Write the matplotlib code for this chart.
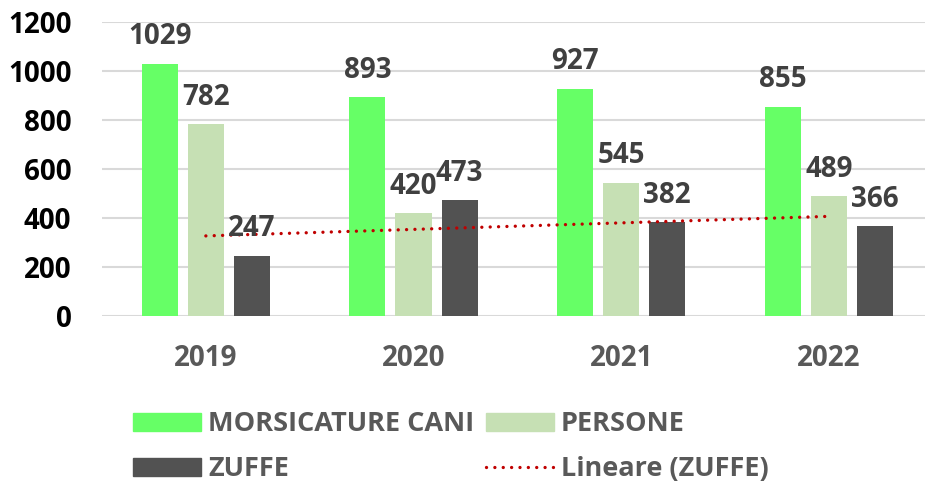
import matplotlib
matplotlib.use("Agg")
import matplotlib.pyplot as plt
import numpy as np
from matplotlib.patches import Patch
from matplotlib.lines import Line2D

years = ["2019", "2020", "2021", "2022"]
morsicature = [1029, 893, 927, 855]
persone = [782, 420, 545, 489]
zuffe = [247, 473, 382, 366]
series_names = ["MORSICATURE CANI", "PERSONE", "ZUFFE"]
trend_name = "Lineare (ZUFFE)"
colors = ["#66ff66", "#c6e0b4", "#525252"]

plt.rcParams['font.family'] = ['Open Sans', 'DejaVu Sans']
plt.rcParams['font.weight'] = 'bold'

fig = plt.figure(figsize=(9.25, 4.9), dpi=100)
ax = fig.add_axes([0.1103, 0.355, 0.898, 0.600])

x = np.arange(len(years))
width = 0.174
step = 0.222
data = [morsicature, persone, zuffe]
for i, (vals, c) in enumerate(zip(data, colors)):
    pos = x + (i - 1) * step
    ax.bar(pos, vals, width=width, color=c, zorder=3)
    for p, v in zip(pos, vals):
        ax.annotate(str(v), (p, v), xytext=(0, 9), textcoords="offset points",
                    ha="center", va="bottom", fontsize=20, fontweight="bold",
                    color="#404040", zorder=5)

# linear trendline of ZUFFE
xs = np.arange(1, len(zuffe) + 1)
coef = np.polyfit(xs, zuffe, 1)
trend = np.polyval(coef, xs)
ax.plot(x, trend, color="#c00000", linewidth=2.4, linestyle=(0, (0.01, 2.5)),
        dash_capstyle="round", zorder=4)

ax.set_ylim(0, 1200)
ax.set_xlim(-0.5, len(years) - 0.5)
ax.set_yticks(range(0, 1201, 200))
ax.set_xticks(x)
ax.set_xticklabels(years)
ax.grid(axis="y", color="#d9d9d9", linewidth=1.5, zorder=0)
ax.set_axisbelow(True)
for s in ax.spines.values():
    s.set_visible(False)
ax.tick_params(axis="both", length=0)
ax.tick_params(axis="y", pad=22, labelsize=20, labelcolor="black")
ax.tick_params(axis="x", pad=20, labelsize=20, labelcolor="#595959")
for t in ax.get_yticklabels() + ax.get_xticklabels():
    t.set_fontweight("bold")

handles = [Patch(color=colors[0]), Patch(color=colors[2]),
           Patch(color=colors[1]),
           Line2D([0], [0], color="#c00000", linewidth=2.4,
                  linestyle=(0, (0.01, 2.5)), dash_capstyle="round")]
labels = [series_names[0], series_names[2], series_names[1], trend_name]
leg = fig.legend(handles, labels, ncol=2, loc="center left",
                 bbox_to_anchor=(0.1438, 0.0878), frameon=False,
                 borderaxespad=0, borderpad=0, fontsize=19.5,
                 handlelength=2.52, handleheight=0.63, handletextpad=0.26,
                 columnspacing=0.41, labelspacing=0.70)
for t in leg.get_texts():
    t.set_color("#595959")
    t.set_fontweight("bold")

fig.savefig("out.png", dpi=100)
